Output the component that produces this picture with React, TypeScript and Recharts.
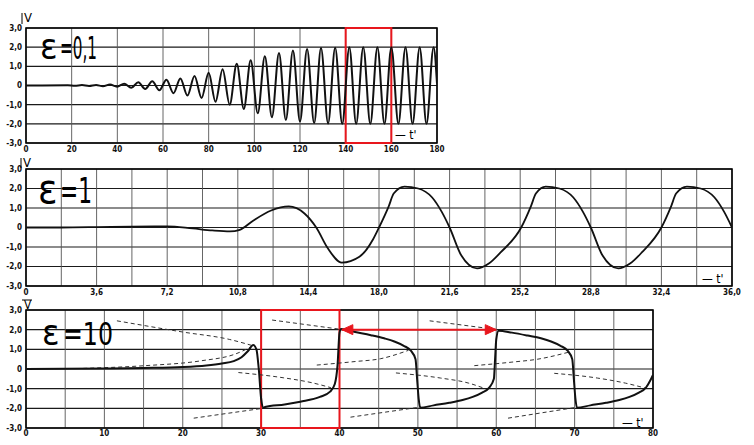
import React from 'react';
import { LineChart, Line, XAxis, YAxis, CartesianGrid, ReferenceArea } from 'recharts';

// ---------- shared V axis ----------
const V_TICKS = [-3, -2, -1, 0, 1, 2, 3];
const V_LABELS = ['-3,0', '-2,0', '-1,0', '0', '1,0', '2,0', '3,0'];

// ---------- panel 1 : eps = 0.1 ----------
const P1_TICKS = [0, 20, 40, 60, 80, 100, 120, 140, 160, 180];
const P1_LABELS = ['0', '20', '40', '60', '80', '100', '120', '140', '160', '180'];
const P1_T = [0, 18.3, 21.4, 24.5, 27.6, 30.7, 33.7, 36.8, 39.9, 43.0, 46.1, 49.2, 52.2, 55.3, 58.4, 61.5, 64.6, 67.6, 70.7, 73.8, 76.9, 80.0, 83.0, 86.1, 89.2, 92.3, 95.4, 98.4, 101.5, 104.6, 107.7, 110.8, 113.8, 116.9, 120.0, 123.1, 126.2, 129.2, 132.3, 135.4, 138.5, 141.6, 144.6, 147.7, 150.8, 153.9, 157.0, 160.0, 163.1, 166.2, 169.3, 172.4, 175.4, 178.5, 180];
const P1_V = [0, 0.01, -0.01, 0.02, -0.02, 0.03, -0.04, 0.05, -0.06, 0.09, -0.12, 0.17, -0.18, 0.22, -0.25, 0.3, -0.4, 0.37, -0.52, 0.5, -0.65, 0.66, -0.85, 0.85, -1.0, 1.13, -1.22, 1.32, -1.45, 1.53, -1.65, 1.7, -1.8, 1.83, -1.88, 1.91, -1.96, 1.95, -1.98, 1.97, -2.0, 2.0, -2.0, 2.0, -2.0, 2.0, -2.0, 2.0, -2.0, 2.0, -2.0, 2.0, -2.0, 2.0, 0.1];
const P1_BOX = [140, 160];

// ---------- panel 2 : eps = 1 ----------
const P2_TICKS = [0, 1.8, 3.6, 5.4, 7.2, 9.0, 10.8, 12.6, 14.4, 16.2, 18.0, 19.8, 21.6, 23.4, 25.2, 27.0, 28.8, 30.6, 32.4, 34.2, 36.0];
const P2_LABELS = ['0', '', '3,6', '', '7,2', '', '10,8', '', '14,4', '', '18,0', '', '21,6', '', '25,2', '', '28,8', '', '32,4', '', '36,0'];
const P2_T = [0, 1.8, 3.6, 5.4, 7.2, 8.5, 9.5, 10.4, 10.9, 11.6, 12.5, 13.4, 14.2, 14.8, 15.4, 16.1, 17.0, 17.7, 18.0, 18.5, 18.75, 19.3, 20.0, 20.7, 21.2, 21.6, 22.2, 23.0, 23.6, 24.2, 25.25, 25.75, 26.0, 26.5, 27.2, 27.9, 28.4, 28.8, 29.4, 30.2, 30.8, 31.4, 32.4, 32.9, 33.15, 33.7, 34.4, 35.1, 35.6, 36.0];
const P2_V = [0, 0, 0.02, 0.05, 0.06, -0.05, -0.15, -0.2, -0.12, 0.36, 0.87, 1.08, 0.72, 0, -1.08, -1.8, -1.5, -0.6, 0, 1.1, 1.74, 2.1, 2.0, 1.55, 0.8, 0, -1.44, -2.1, -1.85, -1.28, 0, 1.1, 1.74, 2.1, 2.0, 1.55, 0.8, 0, -1.44, -2.1, -1.85, -1.28, 0, 1.1, 1.74, 2.1, 2.0, 1.55, 0.8, 0];

// ---------- panel 3 : eps = 10 ----------
const P3_TICKS = [0, 5, 10, 15, 20, 25, 30, 35, 40, 45, 50, 55, 60, 65, 70, 75, 80];
const P3_LABELS = ['0', '', '10', '', '20', '', '30', '', '40', '', '50', '', '60', '', '70', '', '80'];
const P3_T = [0, 10, 15, 20, 23, 25, 26.5, 27.5, 28.3, 29.0, 29.4, 29.7, 30.0, 30.3, 30.5, 33, 35, 37.5, 38.8, 39.4, 39.75, 40.0, 40.2, 42, 44, 45.7, 47, 48.2, 49.1, 49.7, 49.9, 50.1, 50.3, 52, 54, 55.7, 57, 58.2, 59.1, 59.7, 59.85, 60.0, 60.3, 62, 64, 65.7, 67, 68.2, 69.1, 69.7, 69.9, 70.1, 70.3, 72, 74, 75.7, 77, 78.2, 79.1, 79.7, 80];
const P3_V = [0, 0.02, 0.05, 0.1, 0.18, 0.28, 0.4, 0.6, 0.9, 1.22, 1.0, 0.0, -1.5, -1.97, -1.93, -1.8, -1.66, -1.42, -1.15, -0.76, 0.2, 1.85, 2.03, 1.88, 1.72, 1.56, 1.4, 1.18, 0.93, 0.5, -0.5, -1.5, -1.97, -1.85, -1.72, -1.58, -1.42, -1.2, -0.95, -0.5, 0.5, 1.5, 1.95, 1.85, 1.7, 1.56, 1.4, 1.18, 0.93, 0.5, -0.5, -1.5, -1.97, -1.85, -1.72, -1.58, -1.42, -1.2, -0.95, -0.55, -0.3];
// dashed auxiliary curves (t list, v list)
const P3_DASH_T = [
  [11.6, 20, 26, 28.8],
  [7.3, 15.2, 22.4, 26.7, 28.6],
  [21.4, 30.2],
  [31.4, 40.1],
  [27.1, 32.9, 36.5, 38.9],
  [37.1, 42, 45.2, 48.8],
  [41.4, 50.4],
  [51.5, 60.2],
  [47.2, 52.9, 56.5, 58.6],
  [57.2, 62, 65.3, 69.2],
  [61.5, 70.2],
  [67.4, 72.9, 76.5, 79.1],
];
const P3_DASH_V = [
  [2.45, 1.88, 1.5, 1.2],
  [0.03, 0.17, 0.42, 0.76, 1.1],
  [-2.5, -2.0],
  [2.49, 2.02],
  [-0.18, -0.45, -0.7, -0.95],
  [0.2, 0.38, 0.52, 0.95],
  [-2.45, -1.93],
  [2.45, 2.0],
  [-0.2, -0.46, -0.72, -1.0],
  [0.17, 0.35, 0.5, 0.85],
  [-2.5, -1.95],
  [-0.22, -0.46, -0.72, -0.98],
];
const P3_BOX = [30, 40];
const P3_ARROW_T = [40.3, 60.0];
const P3_ARROW_V = [2.0, 2.0];

const zip = (ts: number[], vs: number[]) => ts.map((t, i) => ({ t, v: vs[i] }));

const RED = '#e8161d';
const INK = '#111';
const tickStyle = { fontSize: 8, fontFamily: 'DejaVu Sans Condensed', fontWeight: 'bold', fill: INK } as any;

type PanelProps = {
  top: number; width: number; height: number;
  mTop: number; mRight: number; xAxisH: number;
  domain: [number, number]; ticks: number[]; labels: string[];
  xOffset: number; children?: React.ReactNode;
};

function Panel(p: PanelProps) {
  return (
    <div style={{ position: 'absolute', left: 0, top: p.top }}>
      <LineChart width={p.width} height={p.height} margin={{ top: p.mTop, right: p.mRight, bottom: 0, left: 0 }}>
        <CartesianGrid vertical={false} stroke="#1a1a1a" strokeWidth={1.2} />
        <CartesianGrid horizontal={false} stroke="#555" strokeWidth={0.9} />
        <XAxis
          type="number" dataKey="t" domain={p.domain} ticks={p.ticks} allowDataOverflow
          height={p.xAxisH} axisLine={false} tickLine={false} tickSize={1} tickMargin={p.xOffset}
          interval={0} tick={tickStyle}
          tickFormatter={(_v: any, i: number) => p.labels[i]}
        />
        <YAxis
          type="number" domain={[-3, 3]} ticks={V_TICKS} allowDataOverflow
          width={26} axisLine={false} tickLine={false} tickSize={2} tickMargin={2}
          interval={0} tick={tickStyle}
          tickFormatter={(_v: any, i: number) => V_LABELS[i]}
        />
        <ReferenceArea x1={p.domain[0]} x2={p.domain[1]} y1={-3} y2={3} fill="none" stroke="#000" strokeWidth={1.6} />
        {p.children}
      </LineChart>
    </div>
  );
}

const arrowDot = (props: any) => {
  const { cx, cy, index } = props;
  const dir = index === 0 ? 1 : -1;
  const d = `M${cx},${cy} L${cx + dir * 11},${cy - 5} L${cx + dir * 11},${cy + 5} Z`;
  return <path key={`ah-${index}`} d={d} fill={RED} stroke={RED} />;
};

export default function App() {
  const d1 = zip(P1_T, P1_V);
  const d2 = zip(P2_T, P2_V);
  const d3 = zip(P3_T, P3_V);
  const arrow = zip(P3_ARROW_T, P3_ARROW_V);
  const big = { fontFamily: 'DejaVu Sans Condensed', fill: '#000', lengthAdjust: 'spacingAndGlyphs' } as any;
  return (
    <div style={{ position: 'absolute', left: 0, top: 0, width: 754, height: 445, background: '#fff', overflow: 'hidden' }}>
      <Panel top={0} width={450} height={160} mTop={28} mRight={13} xAxisH={17} domain={[0, 180]} ticks={P1_TICKS} labels={P1_LABELS} xOffset={2}>
        <ReferenceArea x1={P1_BOX[0]} x2={P1_BOX[1]} y1={-3} y2={3} fill="none" stroke={RED} strokeWidth={2} />
        <Line data={d1} dataKey="v" type="monotone" stroke={INK} strokeWidth={2} dot={false} isAnimationActive={false} />
      </Panel>
      <Panel top={160} width={754} height={140} mTop={9} mRight={22} xAxisH={14} domain={[0, 36]} ticks={P2_TICKS} labels={P2_LABELS} xOffset={2}>
        <Line data={d2} dataKey="v" type="monotone" stroke={INK} strokeWidth={1.8} dot={false} isAnimationActive={false} />
      </Panel>
      <Panel top={300} width={680} height={145} mTop={10} mRight={27} xAxisH={17} domain={[0, 80]} ticks={P3_TICKS} labels={P3_LABELS} xOffset={1}>
        {P3_DASH_T.map((ts, i) => (
          <Line key={`dash-${i}`} data={zip(ts, P3_DASH_V[i])} dataKey="v" type="monotone" stroke="#333" strokeWidth={1} strokeDasharray="4 3" dot={false} isAnimationActive={false} />
        ))}
        <Line data={d3} dataKey="v" type="monotone" stroke={INK} strokeWidth={2} dot={false} isAnimationActive={false} />
        <ReferenceArea x1={P3_BOX[0]} x2={P3_BOX[1]} y1={-3} y2={3} fill="none" stroke={RED} strokeWidth={2} />
        <Line data={arrow} dataKey="v" type="linear" stroke={RED} strokeWidth={2} dot={arrowDot} isAnimationActive={false} />
      </Panel>
      <svg width={754} height={445} style={{ position: 'absolute', left: 0, top: 0, pointerEvents: 'none' }}>
        {/* epsilon labels */}
        <text x={40} y={59} {...big} fontSize={36}>ε</text>
        <text x={60} y={59} {...big} fontSize={32} textLength={37}>=0,1</text>
        <text x={38} y={203} {...big} fontSize={40}>ε</text>
        <text x={60} y={203} {...big} fontSize={36} textLength={32}>=1</text>
        <text x={42} y={345} {...big} fontSize={36}>ε</text>
        <text x={63} y={345} {...big} fontSize={32} textLength={50}>=10</text>
        {/* V axis labels */}
        <line x1={22} y1={13} x2={22} y2={24} stroke="#000" strokeWidth={1} />
        <text x={24} y={22} fontFamily="DejaVu Sans Condensed" fontSize={13} fill="#000">V</text>
        <line x1={21} y1={158} x2={21} y2={168} stroke="#000" strokeWidth={1} />
        <text x={23} y={167} fontFamily="DejaVu Sans Condensed" fontSize={13} fill="#000">V</text>
        <line x1={22} y1={300} x2={32} y2={300} stroke="#000" strokeWidth={1} />
        <text x={24} y={309} fontFamily="DejaVu Sans Condensed" fontSize={12} fill="#000">V</text>
        {/* t' labels */}
        <text x={395} y={139} fontFamily="DejaVu Sans Condensed" fontSize={12} fill="#000">— t'</text>
        <text x={702} y={283} fontFamily="DejaVu Sans Condensed" fontSize={12} fill="#000">— t'</text>
        <text x={622} y={427} fontFamily="DejaVu Sans Condensed" fontSize={12} fill="#000">— t'</text>
      </svg>
    </div>
  );
}
